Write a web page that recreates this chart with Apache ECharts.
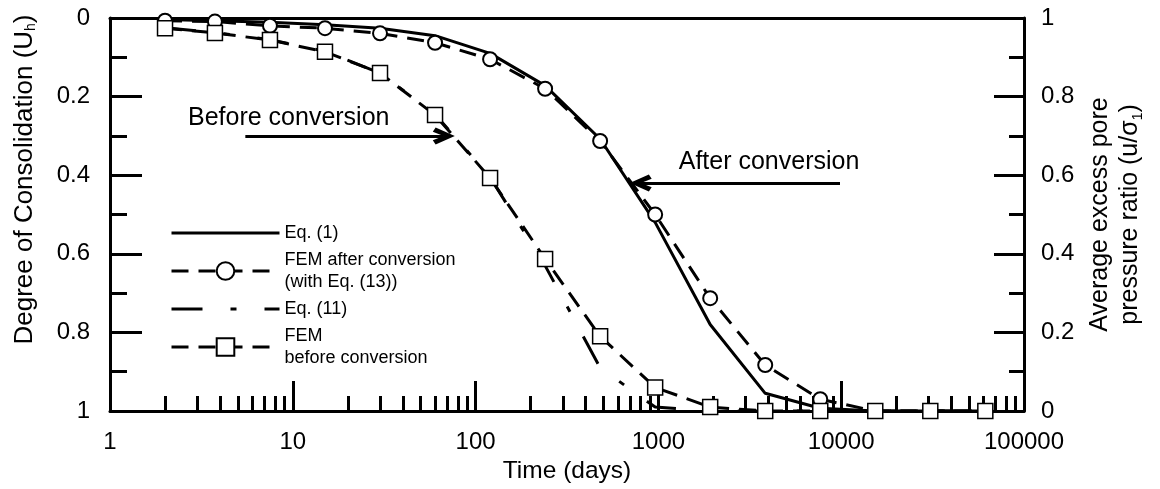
<!DOCTYPE html>
<html>
<head>
<meta charset="utf-8">
<script src="https://cdn.jsdelivr.net/npm/echarts@6/dist/echarts.min.js"></script>
<style>html,body{margin:0;padding:0;background:#fff;}#c{width:1160px;height:489px;}</style>
</head>
<body>
<div id="c"></div>
<script>
// ---- data ----
var times = [2, 3.75, 7.5, 15, 30, 60, 120, 240, 480, 960, 1920, 3840, 7680, 15360, 30720, 61440];
var eq1 = [0.004, 0.007, 0.011, 0.017, 0.026, 0.045, 0.09, 0.172, 0.308, 0.52, 0.78, 0.955, 0.993, 1, 1, 1];
var femAfter = [0.007, 0.009, 0.02, 0.026, 0.039, 0.063, 0.105, 0.18, 0.313, 0.50, 0.713, 0.883, 0.97, 1, 1, 1];
var eq11 = [0.025, 0.037, 0.055, 0.085, 0.14, 0.245, 0.405, 0.63, 0.89, 0.99, 1, 1, 1, 1, 1, 1];
var femBefore = [0.026, 0.038, 0.056, 0.086, 0.14, 0.247, 0.407, 0.613, 0.81, 0.94, 0.99, 1, 1, 1, 1, 1];
var xMajorLabels = [1, 10, 100, 1000, 10000, 100000];
var xMinorTicks = [2,3,4,5,6,7,8,9,20,30,40,50,60,70,80,90,200,300,400,500,600,700,800,900,
  2000,3000,4000,5000,6000,7000,8000,9000,20000,30000,40000,50000,60000,70000,80000,90000];
var seriesNames = ['Eq. (1)', 'FEM after conversion\n(with Eq. (13))', 'Eq. (11)', 'FEM\nbefore conversion'];
var annotations = [
  {text: 'Before conversion', at: [9.5, 0.254], from: [5.5, 0.3], to: [67, 0.3]},
  {text: 'After conversion', at: [4030, 0.366], from: [9850, 0.42], to: [800, 0.42]}
];

function pairs(ys) { return times.map(function (t, i) { return [t, ys[i]]; }); }

var FONT = '"Liberation Sans", Arial, sans-serif';
var chevron = 'path://M8,0 L16,17 L12,19.5 L8,10 L4,19.5 L0,17 Z';

var chart = echarts.init(document.getElementById('c'), null, {renderer: 'canvas'});
var option = {
  animation: false,
  backgroundColor: '#fff',
  textStyle: {fontFamily: FONT, color: '#000'},
  grid: {left: 110, right: 136, top: 18, bottom: 78, containLabel: false},
  legend: {
    orient: 'vertical', left: 170, top: 222, padding: 0, itemGap: 5,
    itemWidth: 108, itemHeight: 22,
    lineStyle: {width: 3},
    data: [
      {name: seriesNames[0], itemStyle: {opacity: 0}},
      {name: seriesNames[1]},
      {name: seriesNames[2], itemStyle: {opacity: 0}},
      {name: seriesNames[3]}
    ],
    textStyle: {fontFamily: FONT, fontSize: 18, lineHeight: 22, color: '#000'}
  },
  xAxis: [
    {
      type: 'log', logBase: 10, min: 1, max: 100000, position: 'bottom',
      name: 'Time (days)', nameLocation: 'middle', nameGap: 47,
      nameTextStyle: {fontFamily: FONT, fontSize: 24.5, color: '#000'},
      axisLine: {show: true, onZero: false, lineStyle: {color: '#000', width: 3}},
      axisTick: {show: true, inside: true, length: 30, lineStyle: {color: '#000', width: 3}},
      axisLabel: {show: true, margin: 19, fontFamily: FONT, fontSize: 24, color: '#000',
        formatter: function (v) { return String(Math.round(v)); }},
      splitLine: {show: false}
    },
    {
      type: 'log', logBase: 10, min: 1, max: 100000, position: 'bottom',
      axisLine: {show: false, onZero: false},
      axisTick: {show: true, inside: true, length: 15, customValues: xMinorTicks,
        lineStyle: {color: '#000', width: 3}},
      axisLabel: {show: false},
      splitLine: {show: false}
    },
    {
      type: 'log', logBase: 10, min: 1, max: 100000, position: 'top',
      axisLine: {show: true, onZero: false, lineStyle: {color: '#000', width: 3}},
      axisTick: {show: false}, axisLabel: {show: false}, splitLine: {show: false}
    }
  ],
  yAxis: [
    {
      type: 'value', min: 0, max: 1, interval: 0.2, inverse: true, position: 'left',
      name: 'Degree of Consolidation (U{sub|h})', nameLocation: 'middle', nameGap: 72, nameRotate: 90,
      nameTextStyle: {fontFamily: FONT, fontSize: 26, color: '#000', padding: [0, 0, 0, 70],
        rich: {sub: {fontFamily: FONT, fontSize: 14, verticalAlign: 'bottom', padding: [11, 0, 0, 0]}}},
      axisLine: {show: true, onZero: false, lineStyle: {color: '#000', width: 3}},
      axisTick: {show: true, inside: true, length: 32, lineStyle: {color: '#000', width: 3}},
      minorTick: {show: true, splitNumber: 2, length: 17, lineStyle: {color: '#000', width: 3}},
      axisLabel: {margin: 20, fontFamily: FONT, fontSize: 24, color: '#000'},
      splitLine: {show: false}, minorSplitLine: {show: false}
    },
    {
      type: 'value', min: 0, max: 1, interval: 0.2, position: 'right',
      name: 'Average excess pore\npressure ratio (u/σ{sub|1})', nameLocation: 'middle', nameGap: 61, nameRotate: 90,
      nameTextStyle: {fontFamily: FONT, fontSize: 25, lineHeight: 30, color: '#000',
        rich: {sub: {fontFamily: FONT, fontSize: 14, verticalAlign: 'bottom', padding: [11, 0, 0, 0]}}},
      axisLine: {show: true, onZero: false, lineStyle: {color: '#000', width: 3}},
      axisTick: {show: true, inside: true, length: 30, lineStyle: {color: '#000', width: 3}},
      minorTick: {show: true, splitNumber: 2, length: 15, lineStyle: {color: '#000', width: 3}},
      axisLabel: {margin: 17, fontFamily: FONT, fontSize: 24, color: '#000'},
      splitLine: {show: false}, minorSplitLine: {show: false}
    }
  ],
  series: [
    {
      name: seriesNames[0], type: 'line', data: pairs(eq1), showSymbol: false, symbol: 'none',
      lineStyle: {color: '#000', width: 3, type: 'solid'}, itemStyle: {color: '#000'}, z: 3
    },
    {
      name: seriesNames[1], type: 'line', data: pairs(femAfter), symbol: 'circle', symbolSize: 14,
      lineStyle: {color: '#000', width: 3, type: [17, 10]},
      itemStyle: {color: '#fff', borderColor: '#000', borderWidth: 2}, z: 4
    },
    {
      name: seriesNames[2], type: 'line', data: pairs(eq11), showSymbol: false, symbol: 'none',
      lineStyle: {color: '#000', width: 3, type: [31, 28, 6, 28]}, itemStyle: {color: '#000'}, z: 3
    },
    {
      name: seriesNames[3], type: 'line', data: pairs(femBefore), symbol: 'rect', symbolSize: 15,
      lineStyle: {color: '#000', width: 3, type: [17, 10]},
      itemStyle: {color: '#fff', borderColor: '#000', borderWidth: 1.5}, z: 4
    },
    {
      name: 'annotations', type: 'line', data: [], silent: true,
      markLine: {
        silent: true, symbol: ['none', chevron], symbolSize: [17, 22],
        lineStyle: {color: '#000', width: 3, type: 'solid'}, label: {show: false},
        itemStyle: {color: '#000'},
        data: annotations.map(function (a) { return [{coord: a.from}, {coord: a.to}]; })
      },
      markPoint: {
        silent: true, symbol: 'circle', symbolSize: 1, itemStyle: {color: 'rgba(0,0,0,0)'},
        label: {show: true, position: 'inside', fontFamily: FONT, fontSize: 25, color: '#000',
          formatter: function (p) { return p.name; }},
        data: annotations.map(function (a) { return {name: a.text, coord: a.at}; })
      }
    }
  ]
};
chart.setOption(option);
</script>
</body>
</html>
